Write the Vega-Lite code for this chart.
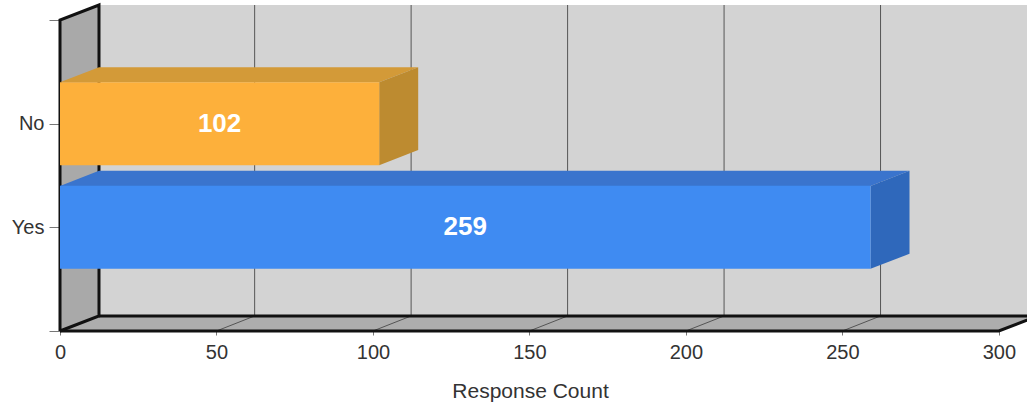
{
"$schema":"https://vega.github.io/schema/vega-lite/v6.json",
"width":967,"height":326,
"autosize":{"type":"none"},
"padding":{"left":60,"top":5,"right":0,"bottom":77},
"background":"white",
"config":{"view":{"stroke":null},"font":"Liberation Sans"},
"datasets":{
"bars":[{"answer":"No","pos":2,"value":102},{"answer":"Yes","pos":1,"value":259}],
"hfaces":[
{"face":"wall","y":0.145,"xa":12.46,"xb":309},{"face":"wall","y":3.145,"xa":12.46,"xb":309},
{"face":"floor","y":0,"xa":0,"xb":300},{"face":"floor","y":0.145,"xa":12.46,"xb":312.46}],
"vfaces":[{"face":"left","x":0,"ya":0,"yb":3},{"face":"left","x":12.46,"ya":0.145,"yb":3.145}],
"bartops":[
{"face":"No top","y":2.4,"xa":0,"xb":102},{"face":"No top","y":2.545,"xa":12.46,"xb":114.46},
{"face":"Yes top","y":1.4,"xa":0,"xb":259},{"face":"Yes top","y":1.545,"xa":12.46,"xb":271.46}],
"barsides":[
{"face":"No side","x":102,"ya":1.6,"yb":2.4},{"face":"No side","x":114.46,"ya":1.745,"yb":2.545},
{"face":"Yes side","x":259,"ya":0.6,"yb":1.4},{"face":"Yes side","x":271.46,"ya":0.745,"yb":1.545}],
"grid":[
{"g":"50","o":1,"x":50,"y":0},{"g":"50","o":2,"x":62.2,"y":0.145},{"g":"50","o":3,"x":62.2,"y":3.145},
{"g":"100","o":1,"x":100,"y":0},{"g":"100","o":2,"x":112.2,"y":0.145},{"g":"100","o":3,"x":112.2,"y":3.145},
{"g":"150","o":1,"x":150,"y":0},{"g":"150","o":2,"x":162.2,"y":0.145},{"g":"150","o":3,"x":162.2,"y":3.145},
{"g":"200","o":1,"x":200,"y":0},{"g":"200","o":2,"x":212.2,"y":0.145},{"g":"200","o":3,"x":212.2,"y":3.145},
{"g":"250","o":1,"x":250,"y":0},{"g":"250","o":2,"x":262.2,"y":0.145},{"g":"250","o":3,"x":262.2,"y":3.145}],
"frame":[
{"g":"left","o":1,"x":0,"y":0},{"g":"left","o":2,"x":0,"y":3},{"g":"left","o":3,"x":12.46,"y":3.145},{"g":"left","o":4,"x":12.46,"y":0.145},{"g":"left","o":5,"x":0,"y":0},
{"g":"back","o":1,"x":12.46,"y":0.145},{"g":"back","o":2,"x":309,"y":0.145},
{"g":"front","o":1,"x":0,"y":0},{"g":"front","o":2,"x":300,"y":0},{"g":"front","o":3,"x":312.46,"y":0.145}]
},
"resolve":{"scale":{"x":"independent"},"axis":{"x":"independent"}},
"layer":[
{"layer":[
{"data":{"name":"hfaces"},"mark":{"type":"area","orient":"horizontal","clip":true},
"encoding":{
"y":{"field":"y","type":"quantitative","scale":{"domain":[0,3.145],"nice":false,"zero":false,"padding":0},
"axis":{"title":null,"values":[0,1,2,3],"domain":false,"grid":false,"tickSize":11,"tickColor":"#777","tickWidth":1,"labelExpr":"datum.value==1?'Yes':datum.value==2?'No':''","labelFont":"Liberation Sans","labelFontSize":20,"labelColor":"#333","labelPadding":5}},
"x":{"field":"xa","type":"quantitative","scale":{"domain":[0,309],"nice":false,"zero":false},
"axis":{"title":"Response Count","values":[0,50,100,150,200,250,300],"domain":false,"grid":false,"tickSize":4,"tickColor":"#777","tickWidth":1,"labelFont":"Liberation Sans","labelFontSize":20,"labelColor":"#333","labelPadding":7,"labelFlush":false,"titleFont":"Liberation Sans","titleFontSize":21,"titleFontWeight":"normal","titleColor":"#333","titleX":470,"titleY":60,"titleBaseline":"middle"}},
"x2":{"field":"xb"},
"color":{"field":"face","type":"nominal","legend":null,"scale":{"domain":["wall","floor","left","No top","No side","Yes top","Yes side"],"range":["#d3d3d3","#adadad","#a9a9a9","#d39a38","#bd8b30","#3a74cd","#2f68bb"]}}}},
{"data":{"name":"vfaces"},"mark":{"type":"area","orient":"vertical"},
"encoding":{"x":{"field":"x","type":"quantitative"},"y":{"field":"ya","type":"quantitative"},"y2":{"field":"yb"},"color":{"field":"face","type":"nominal","legend":null}}},
{"data":{"name":"grid"},"mark":{"type":"line","color":"#555","strokeWidth":1},
"encoding":{"x":{"field":"x","type":"quantitative"},"y":{"field":"y","type":"quantitative"},"detail":{"field":"g"},"order":{"field":"o"}}},
{"data":{"name":"frame"},"mark":{"type":"line","color":"#111","strokeWidth":3},
"encoding":{"x":{"field":"x","type":"quantitative"},"y":{"field":"y","type":"quantitative"},"detail":{"field":"g"},"order":{"field":"o"}}},
{"data":{"name":"bartops"},"mark":{"type":"area","orient":"horizontal"},
"encoding":{"y":{"field":"y","type":"quantitative"},"x":{"field":"xa","type":"quantitative"},"x2":{"field":"xb"},"color":{"field":"face","type":"nominal","legend":null}}},
{"data":{"name":"barsides"},"mark":{"type":"area","orient":"vertical"},
"encoding":{"x":{"field":"x","type":"quantitative"},"y":{"field":"ya","type":"quantitative"},"y2":{"field":"yb"},"color":{"field":"face","type":"nominal","legend":null}}},
{"data":{"name":"bars"},"mark":{"type":"bar","orient":"horizontal","size":83},
"encoding":{"y":{"field":"pos","type":"quantitative"},"x":{"field":"value","type":"quantitative"},
"fill":{"field":"answer","type":"nominal","legend":null,"scale":{"domain":["No","Yes"],"range":["#fdb03b","#3f8bf2"]}}}}
]},
{"data":{"name":"bars"},"mark":{"type":"text","color":"white","fontWeight":"bold","fontSize":26,"font":"Liberation Sans","baseline":"middle"},
"encoding":{"y":{"field":"pos","type":"quantitative"},"x":{"field":"value","type":"quantitative","scale":{"domain":[0,618],"nice":false,"zero":false},"axis":null},"text":{"field":"value","type":"quantitative"}}}
]
}
